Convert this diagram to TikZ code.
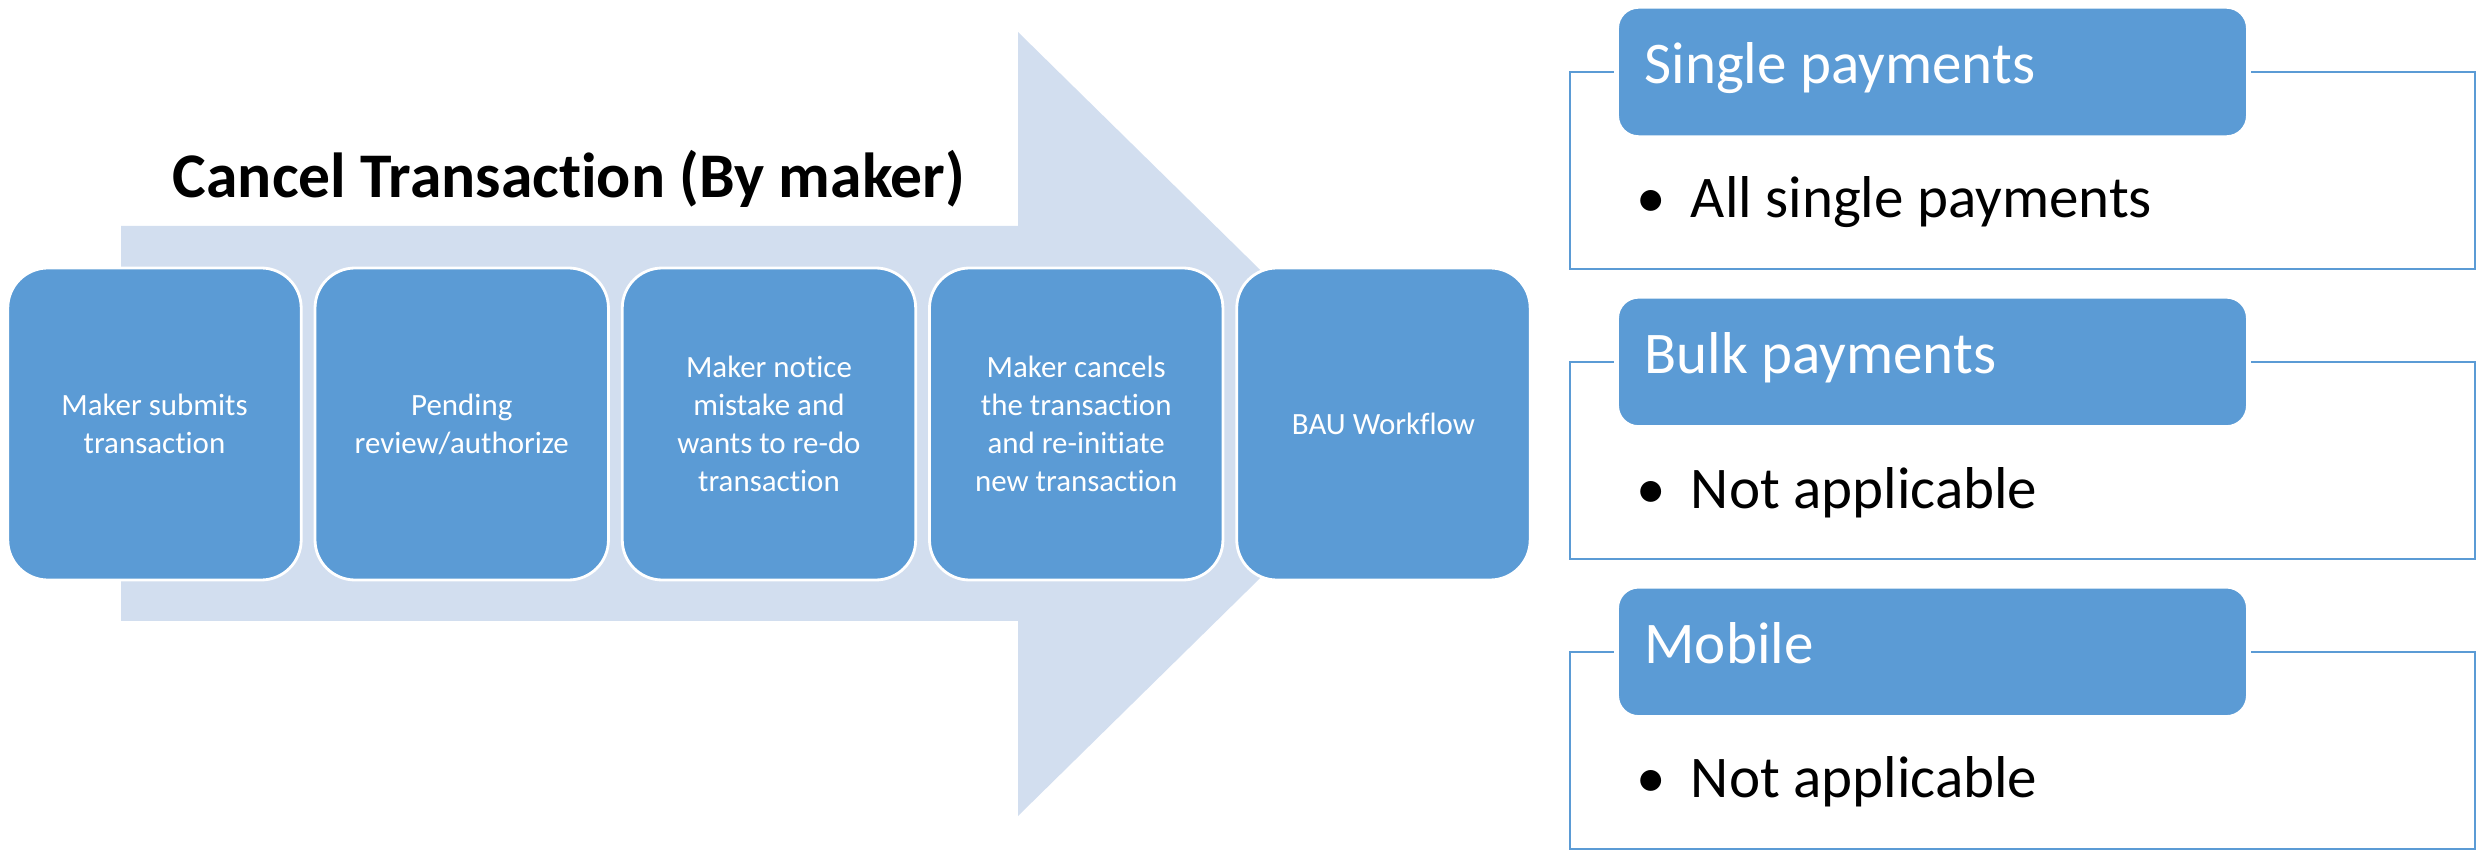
\documentclass[tikz,border=0pt]{standalone}
\usepackage{fontspec}
\setmainfont{Carlito}[Ligatures=NoCommon]
\usepackage{tikz}
\usetikzlibrary{positioning}

\definecolor{stepblue}{HTML}{5B9BD5}
\definecolor{arrowpale}{HTML}{D2DEEF}

\tikzset{
    stepbox/.style={rounded corners=0.4cm,
        minimum width=2.9cm,
        minimum height=3.12cm,
        text width=2.7cm,
        align=flush center,
        fill=stepblue,
        draw=white,
        line width=0.8pt,
        text=white,
        font=\fontsize{8.8}{10.8}\selectfont},
    headbox/.style={rounded corners=0.22cm,
        minimum height=1.315cm,
        text width=5.76cm,
        inner xsep=0.28cm,
        align=flush left,
        text height=0.9em,
        text depth=0.26em,
        fill=stepblue,
        draw=white,
        line width=1.4pt,
        text=white,
        font=\fontsize{16.8}{20}\selectfont},
    framebox/.style={minimum width=9.05cm,
        minimum height=1.97cm,
        draw=stepblue,
        line width=0.6pt},
    itemtext/.style={anchor=base west,
        inner sep=0pt,
        font=\fontsize{16.8}{20}\selectfont}
}

\begin{document}
\begin{tikzpicture}
    \useasboundingbox (0,0) rectangle (24.84,8.51);
    % the big arrow behind the steps
        \fill[arrowpale] (1.21,2.30) -- (1.21,6.25) -- (10.18,6.25)
            -- (10.18,8.19) -- (14.17,4.27) -- (10.18,0.35)
            -- (10.18,2.30) -- cycle;

        \node[anchor=base,
              inner sep=0pt,
              font=\fontsize{18.1}{22}\selectfont\bfseries] (title)
              at (5.69,6.53) {Cancel Transaction (By maker)};

    % Add the steps
        \node[stepbox] (s1) at (1.545,4.27) {Maker submits\\transaction};
        \node[stepbox,
              right=0.11cm of s1] (s2) {Pending\\review/authorize};
        \node[stepbox,
              right=0.11cm of s2] (s3) {Maker notice\\mistake and\\wants to re-do\\transaction};
        \node[stepbox,
              right=0.11cm of s3] (s4) {Maker cancels\\the transaction\\and re-initiate\\new transaction};
        \node[stepbox,
              right=0.11cm of s4] (s5) {BAU Workflow};

    % the three channels
        \node[framebox] (f1) at (20.225,6.805) {};
        \node[framebox,
              below=0.91cm of f1] (f2) {};
        \node[framebox,
              below=0.91cm of f2] (f3) {};

        \node[headbox] (h1) at (19.325,7.79) {Single payments};
        \node[headbox,
              below=1.535cm of h1] (h2) {Bulk payments};
        \node[headbox,
              below=1.535cm of h2] (h3) {Mobile};

        \node[itemtext] (i1) at (16.36,6.33) {\textbullet\hspace{0.42em}All single payments};
        \node[itemtext] (i2) at (16.36,3.43) {\textbullet\hspace{0.42em}Not applicable};
        \node[itemtext] (i3) at (16.36,0.53) {\textbullet\hspace{0.42em}Not applicable};
\end{tikzpicture}
\end{document}
